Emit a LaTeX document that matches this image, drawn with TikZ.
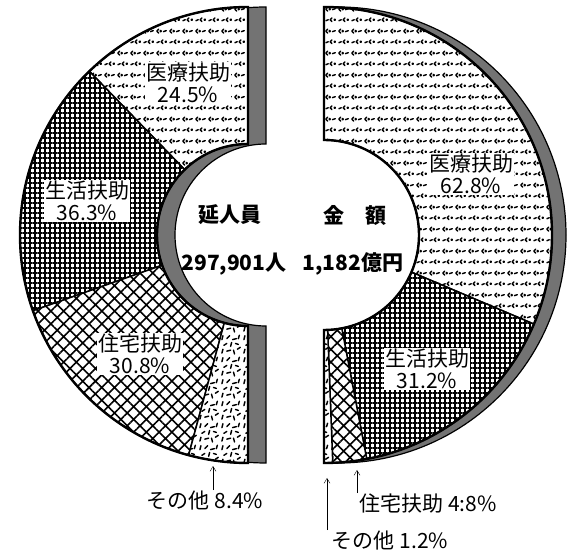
\documentclass[tikz,border=0pt]{standalone}
\usepackage{fontspec}
\setmainfont{Noto Sans CJK JP}
\usetikzlibrary{patterns,patterns.meta,arrows.meta}

\pgfdeclarepatternformonly{iryopat}{\pgfqpoint{0pt}{0pt}}{\pgfqpoint{13pt}{22pt}}{\pgfqpoint{13pt}{22pt}}{%
  \pgfsetlinewidth{1.5pt}\pgfsetroundcap\pgfsetroundjoin
  \pgfpathmoveto{\pgfqpoint{1pt}{4.5pt}}\pgfpathlineto{\pgfqpoint{3.5pt}{5.5pt}}
  \pgfpathmoveto{\pgfqpoint{7.5pt}{7.5pt}}\pgfpathlineto{\pgfqpoint{5.5pt}{5.5pt}}\pgfpathlineto{\pgfqpoint{7.5pt}{3.5pt}}
  \pgfpathcircle{\pgfqpoint{10.5pt}{5.5pt}}{0.7pt}
  \pgfpathmoveto{\pgfqpoint{2.8pt}{18.5pt}}\pgfpathlineto{\pgfqpoint{0.8pt}{16.5pt}}\pgfpathlineto{\pgfqpoint{2.8pt}{14.5pt}}
  \pgfpathcircle{\pgfqpoint{5pt}{16.5pt}}{0.7pt}
  \pgfpathmoveto{\pgfqpoint{8pt}{16pt}}\pgfpathlineto{\pgfqpoint{11pt}{17pt}}
  \pgfusepath{stroke}}

\pgfdeclarepatternformonly{sonotapat}{\pgfqpoint{0pt}{0pt}}{\pgfqpoint{22pt}{22pt}}{\pgfqpoint{22pt}{22pt}}{%
  \pgfsetlinewidth{1.5pt}\pgfsetroundcap
  \pgfpathmoveto{\pgfqpoint{2pt}{2pt}}\pgfpathlineto{\pgfqpoint{3pt}{6pt}}
  \pgfpathmoveto{\pgfqpoint{7pt}{4pt}}\pgfpathlineto{\pgfqpoint{11pt}{5pt}}
  \pgfpathmoveto{\pgfqpoint{15pt}{1pt}}\pgfpathlineto{\pgfqpoint{14pt}{5pt}}
  \pgfpathmoveto{\pgfqpoint{18pt}{6pt}}\pgfpathlineto{\pgfqpoint{21pt}{8pt}}
  \pgfpathmoveto{\pgfqpoint{4pt}{10pt}}\pgfpathlineto{\pgfqpoint{7pt}{12pt}}
  \pgfpathmoveto{\pgfqpoint{11pt}{9pt}}\pgfpathlineto{\pgfqpoint{12pt}{13pt}}
  \pgfpathmoveto{\pgfqpoint{16pt}{12pt}}\pgfpathlineto{\pgfqpoint{19pt}{11pt}}
  \pgfpathmoveto{\pgfqpoint{2pt}{16pt}}\pgfpathlineto{\pgfqpoint{3pt}{20pt}}
  \pgfpathmoveto{\pgfqpoint{7pt}{17pt}}\pgfpathlineto{\pgfqpoint{10pt}{20pt}}
  \pgfpathmoveto{\pgfqpoint{13pt}{16pt}}\pgfpathlineto{\pgfqpoint{17pt}{17pt}}
  \pgfpathmoveto{\pgfqpoint{19pt}{17pt}}\pgfpathlineto{\pgfqpoint{20pt}{20.5pt}}
  \pgfusepath{stroke}}

\tikzset{
  sector/.style={preaction={fill=white}, line width=1.5pt},
  iryo/.style={sector, pattern=iryopat},
  seikatsu/.style={sector, pattern={Hatch[angle=0,distance=5pt,line width=1.5pt]}},
  jutaku/.style={sector, pattern={Hatch[angle=45,distance=9pt,line width=1.6pt]}},
  sonota/.style={sector, pattern=sonotapat},
  side3d/.style={fill=black!55, draw=black, line width=1.2pt},
  lbl/.style={fill=white, inner sep=1pt, align=center, font=\fontsize{21}{22}\selectfont},
  ctr/.style={font=\fontsize{21}{22}\selectfont\bfseries},
  note/.style={font=\fontsize{21}{22}\selectfont, inner sep=1pt}
}

\begin{document}
\begin{tikzpicture}[>={Straight Barb[length=5pt,width=6pt]}, x=1pt, y=1pt]
\useasboundingbox (0,0) rectangle (580,553);

% sides seen behind the two halves
\draw[side3d] ([shift={(266,318)}]90:228) arc[start angle=90, end angle=270, radius=228]
   -- ([shift={(266,318)}]270:91) arc[start angle=270, end angle=90, radius=91] -- cycle;
\draw[side3d] ([shift={(338,318)}]90:228) arc[start angle=90, end angle=-90, radius=228]
   -- ([shift={(338,318)}]-90:95) arc[start angle=-90, end angle=90, radius=95] -- cycle;

% left half: persons
\foreach \a/\b/\s in {90/134.1/iryo, 134.1/199.4/seikatsu, 199.4/254.9/jutaku, 254.9/270/sonota}
{
    \draw[\s] ([shift={(248,318)}]\a:228) arc[start angle=\a, end angle=\b, radius=228]
       -- ([shift={(248,318)}]\b:91) arc[start angle=\b, end angle=\a, radius=91] -- cycle;
}
\draw[line width=2.4pt] ([shift={(248,318)}]90:228) arc[start angle=90, end angle=270, radius=228]
   -- ([shift={(248,318)}]270:91) arc[start angle=270, end angle=90, radius=91] -- cycle;

% right half: amount
\foreach \a/\b/\s in {90/-23.0/iryo, -23.0/-79.2/seikatsu, -79.2/-87.8/jutaku, -87.8/-90/sonota}
{
    \draw[\s] ([shift={(324,318)}]\a:228) arc[start angle=\a, end angle=\b, radius=228]
       -- ([shift={(324,318)}]\b:95) arc[start angle=\b, end angle=\a, radius=95] -- cycle;
}
\draw[line width=2.4pt] ([shift={(324,318)}]90:228) arc[start angle=90, end angle=-90, radius=228]
   -- ([shift={(324,318)}]-90:95) arc[start angle=-90, end angle=90, radius=95] -- cycle;

\node[lbl] (iryoL) at (188,470) {医療扶助\\24.5\%};
\node[lbl] (seikatsuL) at (87,352) {生活扶助\\36.3\%};
\node[lbl] (jutakuL) at (140,199) {住宅扶助\\30.8\%};
\node[lbl] (iryoR) at (471,379) {医療扶助\\62.8\%};
\node[lbl] (seikatsuR) at (427,184) {生活扶助\\31.2\%};

\node[ctr] (hito) at (230,338) {延人員};
\node[ctr] (kingaku) at (355,338) {金　額};
\node[ctr] (hitoval) at (234,289) {297,901人};
\node[ctr] (kinval) at (353,289) {1,182億円};

\node[note] (sonotaL) at (205,52) {その他 8.4\%};
\node[note] (jutakuR) at (428,49) {住宅扶助 4:8\%};
\node[note] (sonotaR) at (390,12) {その他 1.2\%};
\coordinate (tipL) at (213,87);
\coordinate (tipJ) at (357,83);
\coordinate (tipO) at (327,75);
\draw[->] (tipL |- sonotaL.north) -- (tipL);
\draw[->] (tipJ |- jutakuR.north) -- (tipJ);
\draw[->] (tipO |- sonotaR.north) -- (tipO);

\end{tikzpicture}
\end{document}
